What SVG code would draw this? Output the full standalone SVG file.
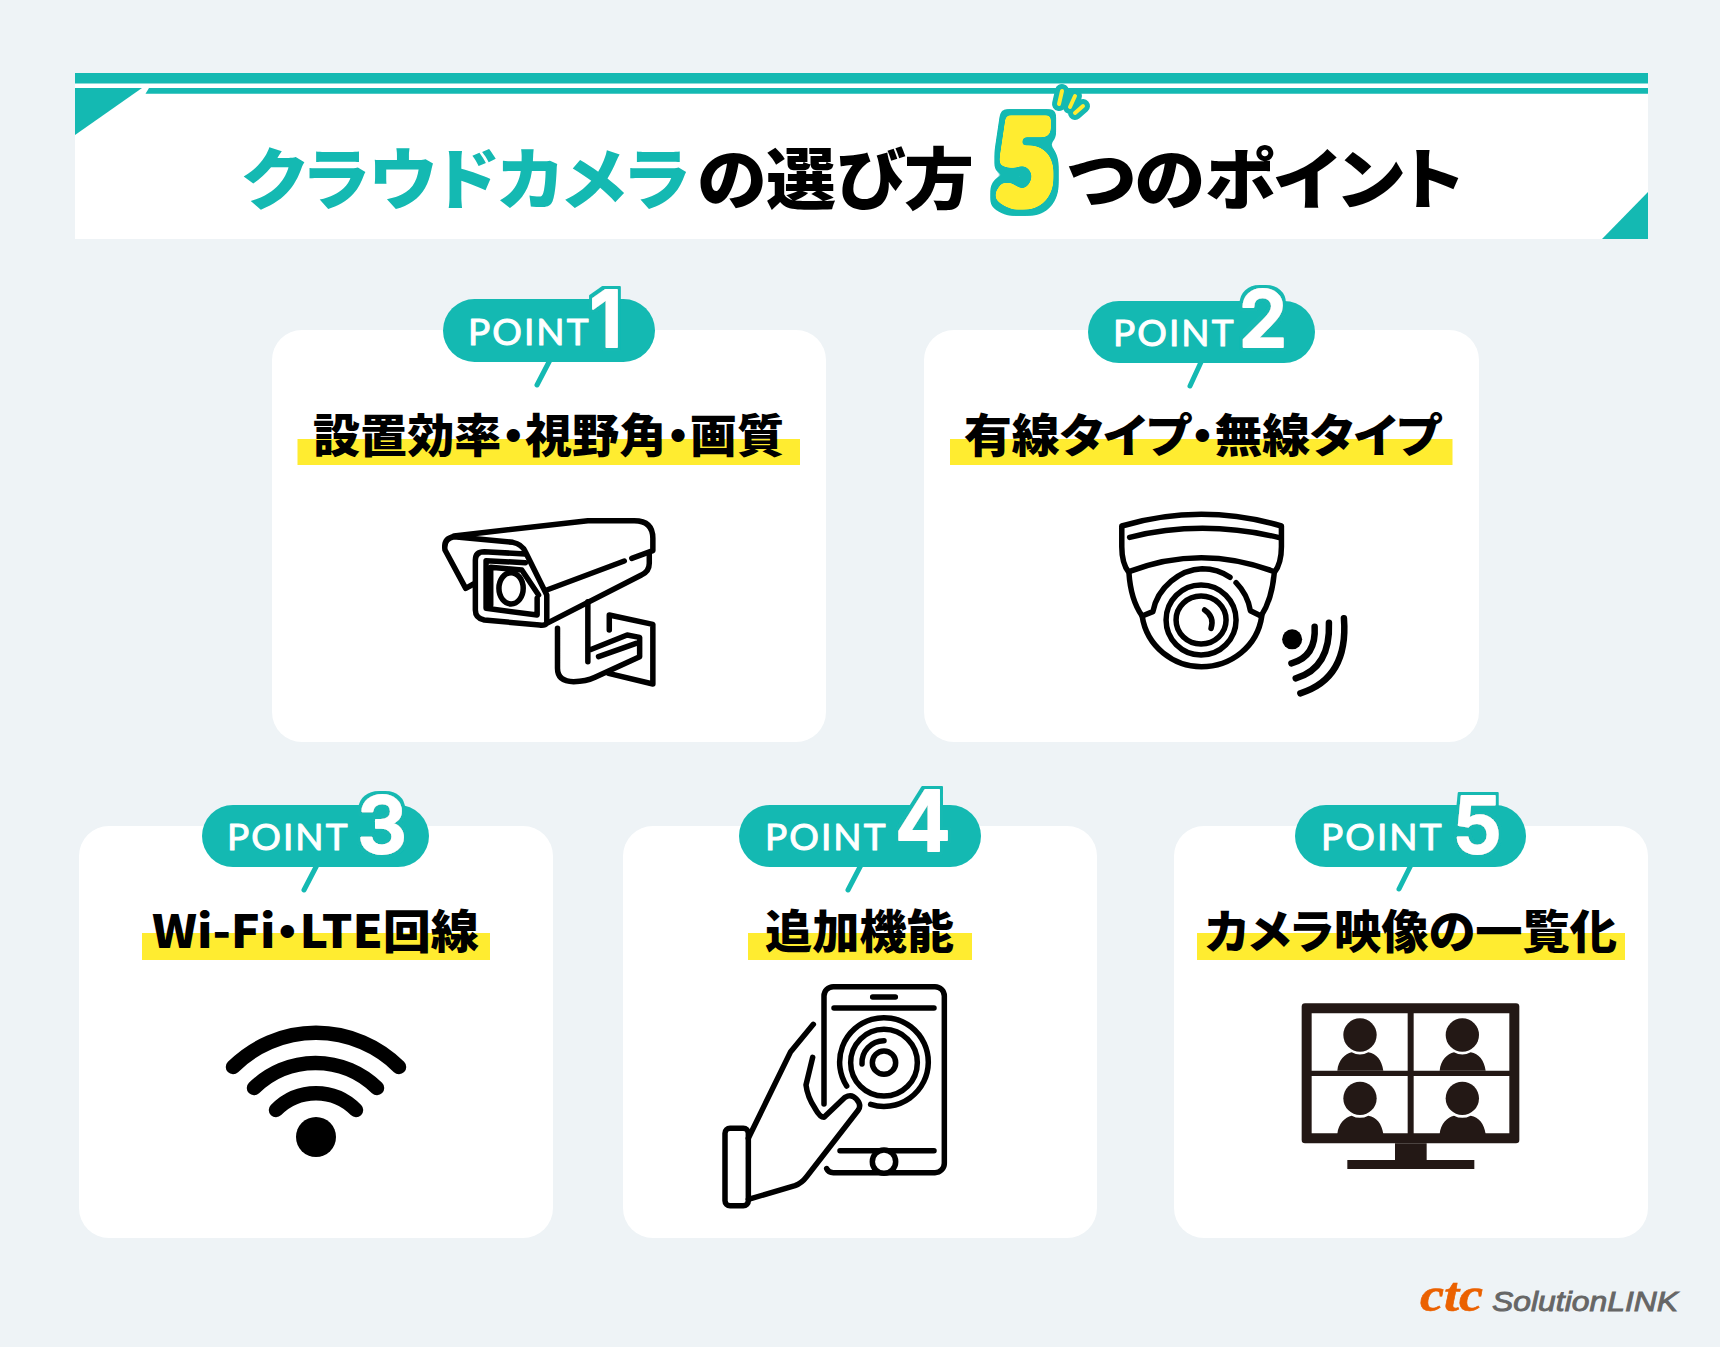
<svg xmlns="http://www.w3.org/2000/svg" width="1720" height="1347" viewBox="0 0 1720 1347">
<style>
text{font-family:"Noto Sans CJK JP","Noto Sans",sans-serif}
.t{font-size:67px;font-weight:900;font-feature-settings:"palt"}
.h{font-size:46px;font-weight:900;font-feature-settings:"palt";fill:#000}
.teal{fill:#14B9B2}.yel{fill:#FFEC30}.card{fill:#fff}
.pt{font-family:Lato,sans-serif;font-size:37px;font-weight:400;fill:#fff;stroke:#fff;stroke-width:1;stroke-linejoin:round;letter-spacing:1.5px}
.dg{font-family:Inter,sans-serif;font-size:78px;font-weight:600;fill:#fff;stroke:#fff;stroke-width:2;stroke-linejoin:round;text-anchor:middle;filter:url(#halo)}
.tail{stroke:#14B9B2;stroke-width:5;stroke-linecap:round;fill:none}
.ic{fill:none;stroke:#000;stroke-width:5.500;stroke-linecap:round;stroke-linejoin:round}
.ic *{vector-effect:non-scaling-stroke}
.tk{fill:none;stroke-linecap:round}
</style>
<defs>
<filter id="halo" x="-30%" y="-30%" width="160%" height="160%"><feMorphology in="SourceAlpha" operator="dilate" radius="3" result="d"/><feFlood flood-color="#14B9B2"/><feComposite in2="d" operator="in" result="o"/><feMerge><feMergeNode in="o"/><feMergeNode in="SourceGraphic"/></feMerge></filter>
<filter id="five" x="-40%" y="-30%" width="180%" height="160%" color-interpolation-filters="sRGB">
<feMorphology in="SourceAlpha" operator="dilate" radius="9" result="d2"/>
<feGaussianBlur in="d2" stdDeviation="3.500" result="b2"/>
<feComponentTransfer in="b2" result="t2"><feFuncA type="linear" slope="10" intercept="-3.500"/></feComponentTransfer>
<feFlood flood-color="#14B9B2"/><feComposite in2="t2" operator="in" result="o2"/>
<feMorphology in="SourceAlpha" operator="dilate" radius="3" result="d1"/>
<feGaussianBlur in="d1" stdDeviation="2.500" result="b1"/>
<feComponentTransfer in="b1" result="t1"><feFuncA type="linear" slope="10" intercept="-3.500"/></feComponentTransfer>
<feFlood flood-color="#FFEC30"/><feComposite in2="t1" operator="in" result="o1"/>
<feMerge><feMergeNode in="o2"/><feMergeNode in="o1"/></feMerge></filter>
<g id="person"><circle cx="0" cy="0" r="50" fill="#231815"/><path d="M-68 107C-65 75-45 57-25 52Q0 65 25 52C50 57 65 75 70 107Z" fill="#231815"/></g>
</defs>
<rect width="1720" height="1347" fill="#EEF3F6"/>
<g id="banner">
<rect x="75" y="73" width="1573" height="166" fill="#fff"/>
<rect class="teal" x="75" y="73" width="1573" height="10.500"/>
<path class="teal" d="M149 88H1648V93.700H145.500Z"/>
<path class="teal" d="M75 88H142L75 135Z"/>
<path class="teal" d="M1648 192V239H1602Z"/>
<text class="t teal" x="242" y="204" textLength="448" lengthAdjust="spacingAndGlyphs">クラウドカメラ</text>
<text class="t" x="697" y="204" fill="#000" textLength="277" lengthAdjust="spacingAndGlyphs">の選び方</text>
<text class="t" x="1067" y="204" fill="#000" textLength="396" lengthAdjust="spacingAndGlyphs">つのポイント</text>
<text x="0" y="205" transform="translate(1025 0) scale(.88 1)" text-anchor="middle" font-size="118" font-weight="900" style="font-family:Lato,sans-serif;filter:url(#five)" fill="#FFEC30">5</text>
<g class="tk" stroke="#14B9B2" stroke-width="14"><path d="M1062 91L1059 104M1075 96L1070 107M1083 106L1075 113"/></g>
<g class="tk" stroke="#FFEC30" stroke-width="4"><path d="M1062 91L1059 104M1075 96L1070 107M1083 106L1075 113"/></g>
</g>
<g id="point1">
<rect class="card" x="272" y="330" width="554" height="412" rx="30"/>
<path class="tail" d="M550 360L537 385"/>
<rect class="teal" x="443" y="299" width="212" height="63" rx="31.500"/>
<text class="pt" x="468" y="345" textLength="122">POINT</text>
<text class="dg" x="606" y="347">1</text>
<rect class="yel" x="297.500" y="439" width="502.500" height="26"/>
<text class="h" x="313" y="452" textLength="471" lengthAdjust="spacingAndGlyphs">設置効率・視野角・画質</text>
<g class="ic" transform="translate(270 280) scale(.35714 .33333)">
<path d="M515 768L890 722H1020Q1072 722 1072 775V812L1013 835M992 843L775 930"/>
<path d="M570 912L548 925L490 810Q485 775 515 770L680 787Q705 792 715 815L775 945V1025"/>
<path d="M1062 822V850Q1062 875 1040 885L775 1030Q770 1037 755 1035L600 1020Q575 1015 575 990V840Q575 815 600 815L715 822"/>
<path d="M715 848L605 842V985L748 1005V955"/>
<path d="M618 862V975M618 862L705 870L752 945"/>
<ellipse cx="675" cy="925" rx="34" ry="47"/>
<path d="M890 965V1145M805 1045V1165Q805 1205 850 1205Q885 1205 910 1192L1035 1130V1072L1000 1065L895 1110"/>
<path d="M920 1130L1025 1090M950 1050V1005L1072 1033V1212L948 1180"/>
</g>
</g>
<g id="point2">
<rect class="card" x="924" y="330" width="555" height="412" rx="30"/>
<path class="tail" d="M1202 360L1190 386"/>
<rect class="teal" x="1088" y="301" width="227" height="62" rx="31"/>
<text class="pt" x="1113" y="346" textLength="122">POINT</text>
<text class="dg" x="1263" y="347">2</text>
<rect class="yel" x="950" y="439" width="502.500" height="26"/>
<text class="h" x="964" y="452" textLength="477" lengthAdjust="spacingAndGlyphs">有線タイプ・無線タイプ</text>
<g class="ic" transform="translate(920 280) scale(.35714 .33333)">
<path d="M868 892C850 878 825 866 790 866C730 868 665 920 652 995L622 1008Q590 960 585 878Q565 850 565 800V738Q787 668 1012 738V800Q1012 850 992 878Q985 960 955 1008L925 992C920 960 905 930 885 908"/>
<path d="M587 772Q787 718 1003 772M585 875Q787 791 992 875"/>
<path d="M622 1008C635 1100 710 1160 788 1160C870 1160 945 1100 957 1008"/>
<ellipse cx="787" cy="1020" rx="98" ry="105"/>
<ellipse cx="787" cy="1020" rx="70" ry="72"/>
<path d="M797 990Q825 1010 815 1045"/>
<ellipse cx="1042" cy="1078" rx="28" ry="30" fill="#000" stroke="none"/>
<path d="M1040 1150Q1110 1130 1105 1040M1052 1195Q1150 1165 1145 1028M1065 1240Q1200 1195 1187 1015" stroke-width="6.500"/>
</g>
</g>
<g id="point3">
<rect class="card" x="79" y="826" width="474" height="412" rx="30"/>
<path class="tail" d="M317 865L304 890"/>
<rect class="teal" x="202" y="805" width="227" height="62" rx="31"/>
<text class="pt" x="227" y="850" textLength="122">POINT</text>
<text class="dg" x="382" y="853">3</text>
<rect class="yel" x="142" y="933" width="348" height="27"/>
<text class="h" x="152" y="948" textLength="327" lengthAdjust="spacingAndGlyphs">Wi-Fi・LTE回線</text>
<g fill="none" stroke="#000" stroke-width="14.500" stroke-linecap="round">
<path d="M233 1067A118 118 0 0 1 399 1067M254 1088A88 88 0 0 1 377 1088M276 1110A56 56 0 0 1 356 1110"/></g>
<circle cx="316" cy="1137" r="20" fill="#000"/>
</g>
<g id="point4">
<rect class="card" x="623" y="826" width="474" height="412" rx="30"/>
<path class="tail" d="M861 865L848 890"/>
<rect class="teal" x="739" y="805" width="242" height="62" rx="31"/>
<text class="pt" x="765" y="850" textLength="122">POINT</text>
<text class="dg" x="923" y="851" style="font-size:84px">4</text>
<rect class="yel" x="748" y="933" width="224" height="27"/>
<text class="h" x="765" y="948" textLength="189" lengthAdjust="spacingAndGlyphs">追加機能</text>
<g class="ic" transform="translate(700 780) scale(.33333)">
<path d="M372 972V648a28 28 0 0 1 28-28H705a28 28 0 0 1 28 28V1150a28 28 0 0 1-28 28H400q-15 0-20-12"/>
<path d="M518 651H586M402 684H702M420 1112H702"/>
<path d="M440 918A133 133 0 1 1 512 973"/>
<circle cx="552" cy="848" r="100"/>
<path d="M486 852A66 66 0 0 1 552 782"/>
<circle cx="552" cy="848" r="35"/>
<circle cx="552" cy="1145" r="35" fill="#fff"/>
<rect x="75" y="1045" width="70" height="232" rx="15"/>
<path d="M145 1075L272 815L340 733"/>
<path d="M145 1258L285 1217Q305 1210 320 1190L475 990Q485 975 470 958Q455 940 435 952L372 1012Q360 1012 345 985Q322 950 318 915L338 832"/>
</g>
</g>
<g id="point5">
<rect class="card" x="1174" y="826" width="474" height="412" rx="30"/>
<path class="tail" d="M1411 865L1399 889"/>
<rect class="teal" x="1295" y="805" width="231" height="62" rx="31"/>
<text class="pt" x="1321" y="850" textLength="122">POINT</text>
<text class="dg" x="1477" y="853">5</text>
<rect class="yel" x="1197" y="933" width="428" height="27"/>
<text class="h" x="1205" y="948" textLength="412" lengthAdjust="spacingAndGlyphs">カメラ映像の一覧化</text>
<g transform="translate(1190 780) scale(.33333)">
<rect x="335" y="670" width="653" height="420" rx="10" fill="#231815"/>
<path fill="#231815" d="M615 1090H710V1140H853V1167H472V1140H615Z"/>
<path fill="#fff" d="M365 700H653V872H365ZM671 700H958V872H671ZM365 888H653V1060H365ZM671 888H958V1060H671Z"/>
<use href="#person" x="510" y="765"/><use href="#person" x="817" y="765"/>
<use href="#person" x="510" y="955"/><use href="#person" x="817" y="955"/>
</g>
</g>
<g id="logo">
<text x="1420" y="1311" font-size="48" font-weight="700" font-style="italic" fill="#EB6100" stroke="#EB6100" stroke-width=".6" style="font-family:'Liberation Serif',serif" textLength="63" lengthAdjust="spacingAndGlyphs">ctc</text>
<text x="1492" y="1311" font-size="28" font-style="italic" fill="#666" stroke="#666" stroke-width=".9" style="font-family:'Liberation Sans',sans-serif" textLength="186" lengthAdjust="spacingAndGlyphs">SolutionLINK</text>
</g>
</svg>
